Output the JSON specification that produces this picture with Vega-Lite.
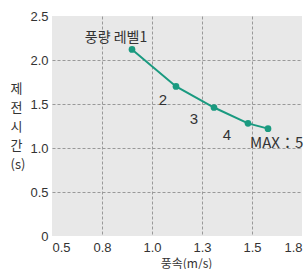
{
  "$schema": "https://vega.github.io/schema/vega-lite/v6.json",
  "autosize": "none",
  "width": 250,
  "height": 220,
  "padding": {"left": 52, "top": 16, "right": 5, "bottom": 33},
  "background": "white",
  "config": {
    "view": {"fill": "#e8e8e8", "stroke": null},
    "axis": {
      "domain": false,
      "ticks": false,
      "labelFont": "Liberation Sans",
      "labelFontSize": 13,
      "labelColor": "#333",
      "gridColor": "#999",
      "gridDash": [3, 2],
      "gridWidth": 1,
      "titleFont": "Noto Sans CJK KR",
      "titleFontSize": 12,
      "titleFontWeight": "normal",
      "titleColor": "#333"
    }
  },
  "data": {
    "values": [
      {"speed": 0.9, "time": 2.12, "label": "풍량 레벨1", "id": 1},
      {"speed": 1.12, "time": 1.70, "label": "2", "id": 2},
      {"speed": 1.31, "time": 1.46, "label": "3", "id": 3},
      {"speed": 1.48, "time": 1.28, "label": "4", "id": 4},
      {"speed": 1.58, "time": 1.22, "label": "MAX：5", "id": 5}
    ]
  },
  "encoding": {
    "x": {
      "field": "speed", "type": "quantitative",
      "scale": {"domain": [0.5, 1.75], "nice": false, "zero": false},
      "axis": {
        "values": [0.5, 0.75, 1.0, 1.25, 1.5, 1.75],
        "format": ".1f",
        "labelPadding": 5,
        "title": "풍속(m/s)",
        "titleBaseline": "middle",
        "titleY": 27,
        "titleX": 134,
        "gridOpacity": {"condition": {"test": "datum.value <= 0.5 || datum.value >= 1.75", "value": 0}, "value": 1}
      }
    },
    "y": {
      "field": "time", "type": "quantitative",
      "scale": {"domain": [0, 2.5], "nice": false},
      "axis": {
        "values": [0, 0.5, 1.0, 1.5, 2.0, 2.5],
        "labelExpr": "datum.value == 0 ? '0' : format(datum.value, '.1f')",
        "labelPadding": 4,
        "title": ["제", "전", "시", "간", "(s)"],
        "titleAngle": 0,
        "titleAlign": "left",
        "titleBaseline": "middle",
        "titleX": -42,
        "titleY": 72,
        "titleLineHeight": 19,
        "titleFontSize": 13,
        "gridOpacity": {"condition": {"test": "datum.value <= 0 || datum.value >= 2.5", "value": 0}, "value": 1}
      }
    }
  },
  "layer": [
    {"mark": {"type": "line", "color": "#1a9a80", "strokeWidth": 2}},
    {"mark": {"type": "circle", "color": "#1a9a80", "opacity": 1, "size": 45}},
    {
      "transform": [{"filter": "datum.id == 1"}],
      "mark": {"type": "text", "font": "Noto Sans CJK KR", "fontSize": 14, "color": "#333", "dx": -16, "dy": -11},
      "encoding": {"text": {"field": "label"}}
    },
    {
      "transform": [{"filter": "datum.id == 2"}],
      "mark": {"type": "text", "font": "Liberation Sans", "fontSize": 15, "color": "#333", "dx": -13, "dy": 14},
      "encoding": {"text": {"field": "label"}}
    },
    {
      "transform": [{"filter": "datum.id == 3"}],
      "mark": {"type": "text", "font": "Liberation Sans", "fontSize": 15, "color": "#333", "dx": -20, "dy": 11},
      "encoding": {"text": {"field": "label"}}
    },
    {
      "transform": [{"filter": "datum.id == 4"}],
      "mark": {"type": "text", "font": "Liberation Sans", "fontSize": 15, "color": "#333", "dx": -21, "dy": 12},
      "encoding": {"text": {"field": "label"}}
    },
    {
      "transform": [{"filter": "datum.id == 5"}],
      "mark": {"type": "text", "font": "Noto Sans CJK KR", "fontSize": 15, "color": "#333", "align": "left", "dx": -18, "dy": 14},
      "encoding": {"text": {"field": "label"}}
    }
  ]
}
